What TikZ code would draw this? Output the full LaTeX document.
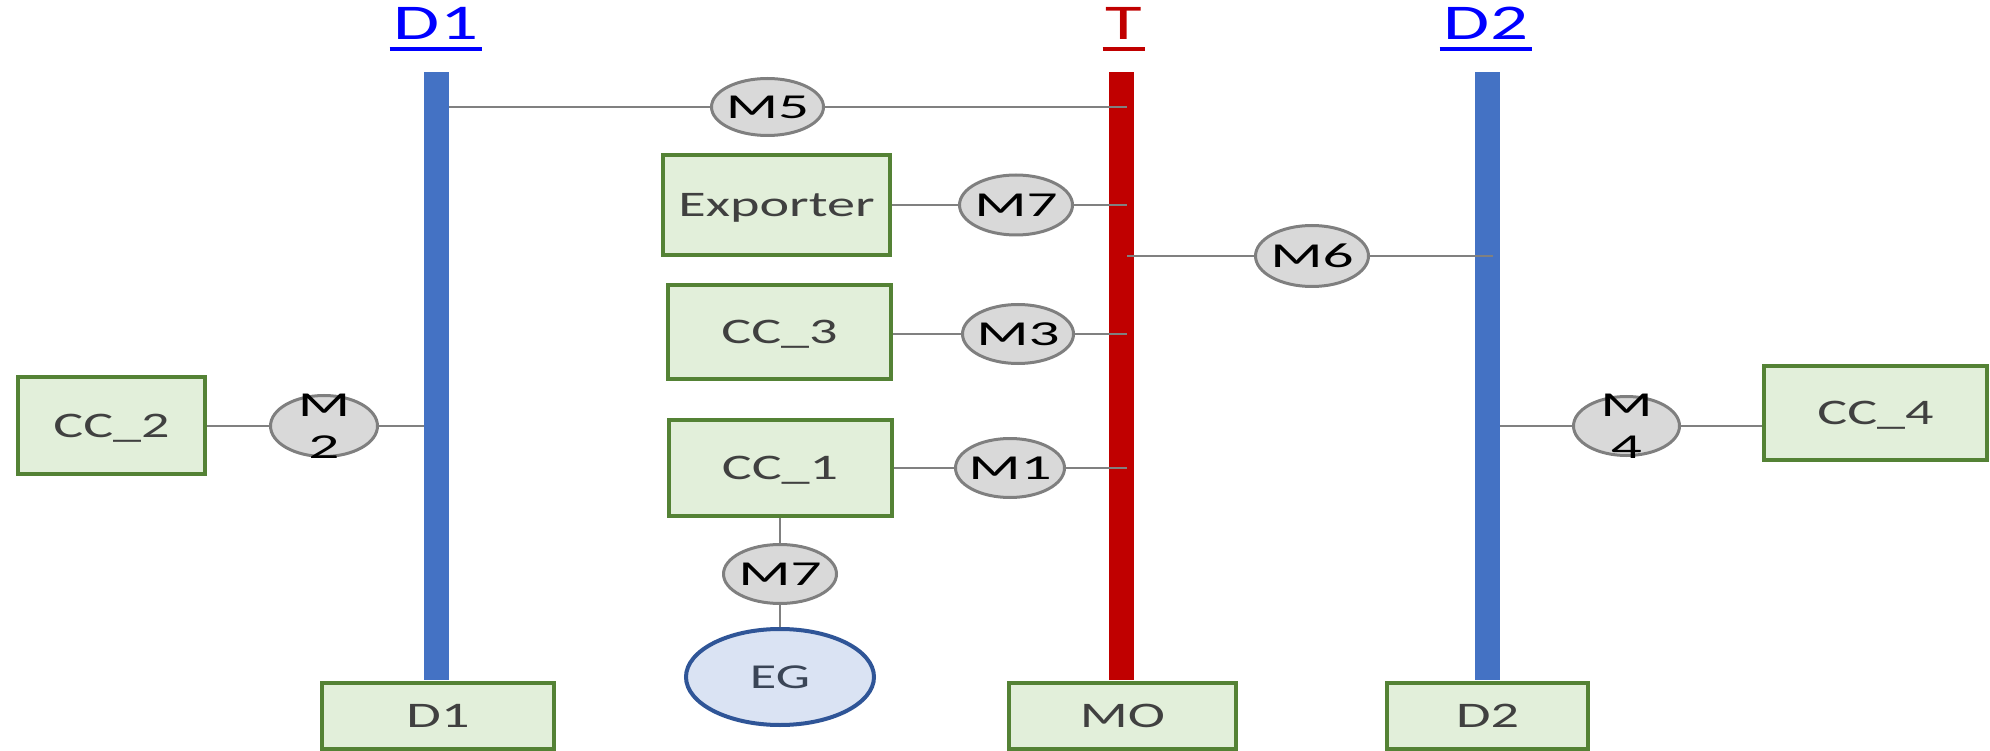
\documentclass[tikz,border=0pt]{standalone}
\usepackage{fontspec}
\usepackage{graphicx}
\setmainfont{Carlito}
\usetikzlibrary{shapes.geometric}

\definecolor{barblue}{HTML}{4472C4}
\definecolor{barred}{HTML}{C00000}
\definecolor{boxfill}{HTML}{E2EFDA}
\definecolor{boxline}{HTML}{548235}
\definecolor{boxtext}{HTML}{404040}
\definecolor{msgfill}{HTML}{D9D9D9}
\definecolor{msgline}{HTML}{7F7F7F}
\definecolor{wirecol}{HTML}{808080}
\definecolor{egfill}{HTML}{DAE3F3}
\definecolor{egline}{HTML}{2F5597}
\definecolor{egtext}{HTML}{3A4556}
\definecolor{linkblue}{HTML}{0000FF}

% horizontally widened lettering
\newcommand{\wideText}[1]{\scalebox{1.56}[1]{#1}}
\newcommand{\wideMsg}[1]{\makebox[0pt]{\scalebox{1.75}[1]{#1}}}
\newcommand{\wideLane}[1]{\scalebox{1.5}[1]{#1}}

\begin{document}
\begin{tikzpicture}[x=1pt,y=-1pt,
  lanebar/.style={rectangle, inner sep=0pt, minimum width=25pt, minimum height=608pt, draw=none},
  ent/.style={rectangle, draw=boxline, line width=4pt, fill=boxfill, text=boxtext,
    inner sep=0pt, font=\fontsize{36}{40}\selectfont, text height=23pt, text depth=0pt},
  msg/.style={ellipse, draw=msgline, line width=3pt, fill=msgfill, text=black,
    inner sep=0pt, font=\fontsize{35}{42}\selectfont, text height=22.5pt, text depth=0pt},
  msglabel/.style={inner sep=0pt, align=center, text=black, font=\fontsize{35}{42}\selectfont},
  lanelab/.style={inner sep=0pt, anchor=base, font=\fontsize{50}{56}\selectfont},
  wire/.style={draw=wirecol, line width=2pt},
]
\useasboundingbox (0,0) rectangle (1990,751);

% lifelines
\node[lanebar, fill=barblue] (barD1) at (436.5,376) {};
\node[lanebar, fill=barred]  (barT)  at (1121.5,376) {};
\node[lanebar, fill=barblue] (barD2) at (1487.5,376) {};
\coordinate (tIn) at (1127,376);
\coordinate (dIn) at (1493,376);

% lane headings
\node[lanelab, text=linkblue] (labD1) at (436,40) {\wideLane{D1}};
\node[lanelab, text=barred]   (labT)  at (1124,40) {\wideLane{T}};
\node[lanelab, text=linkblue] (labD2) at (1486,40) {\wideLane{D2}};
\draw[linkblue, line width=4pt] ([xshift=-4pt,yshift=-9pt]labD1.base west) -- ([xshift=4pt,yshift=-9pt]labD1.base east);
\draw[barred, line width=4pt] ([xshift=-3pt,yshift=-9pt]labT.base west) -- ([xshift=3pt,yshift=-9pt]labT.base east);
\draw[linkblue, line width=4pt] ([xshift=-4pt,yshift=-9pt]labD2.base west) -- ([xshift=4pt,yshift=-9pt]labD2.base east);

% bottom boxes
\node[ent, minimum width=232pt, minimum height=66pt] (d1box) at (438,716) {\wideText{D1}};
\node[ent, minimum width=227pt, minimum height=66pt] (mobox) at (1122.5,716) {\wideText{MO}};
\node[ent, minimum width=201pt, minimum height=66pt] (d2box) at (1487.5,716) {\wideText{D2}};

% components
\node[ent, minimum width=227pt, minimum height=100pt] (exp) at (776.5,205) {\wideText{Exporter}};
\node[ent, minimum width=223pt, minimum height=94pt]  (cc3) at (779.5,332) {\wideText{CC\_3}};
\node[ent, minimum width=223pt, minimum height=96pt]  (cc1) at (780,468) {\wideText{CC\_1}};
\node[ent, minimum width=187pt, minimum height=97pt]  (cc2) at (111.5,425.5) {\wideText{CC\_2}};
\node[ent, minimum width=223pt, minimum height=94pt]  (cc4) at (1875.5,413) {\wideText{CC\_4}};
\node[ellipse, draw=egline, line width=4pt, fill=egfill, text=egtext, inner sep=0pt,
  minimum width=188pt, minimum height=96pt, font=\fontsize{35}{40}\selectfont,
  text height=22.5pt, text depth=0pt] (eg) at (780,677) {\makebox[0pt]{\scalebox{1.55}[1]{EG}}};

% messages
\node[msg, minimum width=112pt, minimum height=57pt] (m5)  at (767.5,107) {\wideMsg{M5}};
\node[msg, minimum width=113pt, minimum height=60pt] (m7a) at (1016,205) {\wideMsg{M7}};
\node[msg, minimum width=113pt, minimum height=61pt] (m6)  at (1312,256) {\wideMsg{M6}};
\node[msg, minimum width=111pt, minimum height=59pt] (m3)  at (1018,334) {\wideMsg{M3}};
\node[msg, minimum width=109pt, minimum height=59pt] (m1)  at (1010,468) {\wideMsg{M1}};
\node[msg, minimum width=113pt, minimum height=59pt] (m7b) at (780,574) {\wideMsg{M7}};
\node[msg, minimum width=107pt, minimum height=61pt,
  label={[msglabel]center:{\wideMsg{M}\\\wideMsg{2}}}] (m2) at (324,426) {};
\node[msg, minimum width=106pt, minimum height=59pt,
  label={[msglabel]center:{\wideMsg{M}\\\wideMsg{4}}}] (m4) at (1626.5,426) {};

% connectors
\draw[wire] (barD1.east |- m5.west) -- (m5.west);
\draw[wire] (m5.east) -- (tIn |- m5.east);
\draw[wire] (exp.east |- m7a.west) -- (m7a.west);
\draw[wire] (m7a.east) -- (tIn |- m7a.east);
\draw[wire] (tIn |- m6.west) -- (m6.west);
\draw[wire] (m6.east) -- (dIn |- m6.east);
\draw[wire] (cc3.east |- m3.west) -- (m3.west);
\draw[wire] (m3.east) -- (tIn |- m3.east);
\draw[wire] (cc1.east |- m1.west) -- (m1.west);
\draw[wire] (m1.east) -- (tIn |- m1.east);
\draw[wire] (cc1.south) -- (m7b.north);
\draw[wire] (m7b.south) -- (eg.north);
\draw[wire] (cc2.east |- m2.west) -- (m2.west);
\draw[wire] (m2.east) -- (barD1.west |- m2.east);
\draw[wire] (barD2.east |- m4.west) -- (m4.west);
\draw[wire] (m4.east) -- (cc4.west |- m4.east);
\end{tikzpicture}
\end{document}
